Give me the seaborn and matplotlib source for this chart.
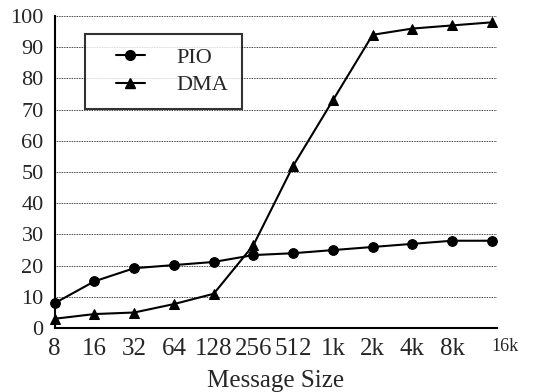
import pandas as pd
import seaborn as sns
import matplotlib.pyplot as plt
from matplotlib.legend_handler import HandlerLine2D

sizes = ['8', '16', '32', '64', '128', '256', '512', '1k', '2k', '4k', '8k', '16k']
pio = [8, 15, 19.2, 20.2, 21.2, 23.4, 24, 25, 26, 27, 28, 28]
dma = [3, 4.5, 5, 7.7, 11, 26.6, 52, 73, 94, 96, 97, 98]

df = pd.DataFrame({'pos': list(range(len(sizes))) * 2,
                   'value': pio + dma,
                   'mode': ['PIO'] * len(sizes) + ['DMA'] * len(sizes)})

sns.set_style('white')
plt.rcParams['font.family'] = ['Liberation Serif', 'DejaVu Serif']

fig = plt.figure(figsize=(5.42, 3.92), dpi=100)
ax = fig.add_axes([0.101, 0.163, 0.816, 0.796])

sns.lineplot(data=df, x='pos', y='value', hue='mode', style='mode',
             markers={'PIO': 'o', 'DMA': '^'}, dashes=False,
             palette={'PIO': 'black', 'DMA': 'black'},
             markersize=7, markeredgecolor='black', linewidth=1.5,
             clip_on=False, ax=ax, legend=False)

ax.set_xlim(0, 11.13)
ax.set_ylim(0, 100)
ax.set_yticks(range(0, 101, 10))
ax.set_yticklabels([str(v) for v in range(0, 101, 10)], fontsize=16)
ax.set_xticks(range(len(sizes)))
ax.set_xticklabels(sizes, fontsize=18)
last = ax.get_xticklabels()[-1]
last.set_fontsize(13)
last.set_horizontalalignment('left')
ax.tick_params(axis='x', direction='in', length=8, width=1.5, color='black', pad=7)
ax.tick_params(axis='y', length=0, pad=8)
for v in range(10, 101, 10):
    ax.axhline(v, color='black', linestyle=(0, (1, 1)), linewidth=0.6, zorder=0)

for side in ['top', 'right']:
    ax.spines[side].set_visible(False)
for side in ['left', 'bottom']:
    ax.spines[side].set_color('black')
    ax.spines[side].set_linewidth(1.5)

ax.set_xlabel('Message Size', fontsize=18, labelpad=7)
ax.set_ylabel('')

# legend handles sit indented inside the box, like the original
h1, = ax.plot([], [], color='black', marker='o', markersize=7, linewidth=1.5)
h2, = ax.plot([], [], color='black', marker='^', markersize=7, linewidth=1.5)
hm = {h1: HandlerLine2D(xpad=0.8), h2: HandlerLine2D(xpad=0.8)}
leg = ax.legend([h1, h2], ['PIO', 'DMA'], loc='upper left', bbox_to_anchor=(0.068, 0.942),
                borderaxespad=0, fontsize=16, frameon=True, fancybox=False,
                handler_map=hm, handlelength=2.1, borderpad=0.6,
                handletextpad=1.44, labelspacing=0.3)
leg.get_frame().set_edgecolor('black')
leg.get_frame().set_linewidth(1.5)

fig.savefig('out.png', dpi=100)
